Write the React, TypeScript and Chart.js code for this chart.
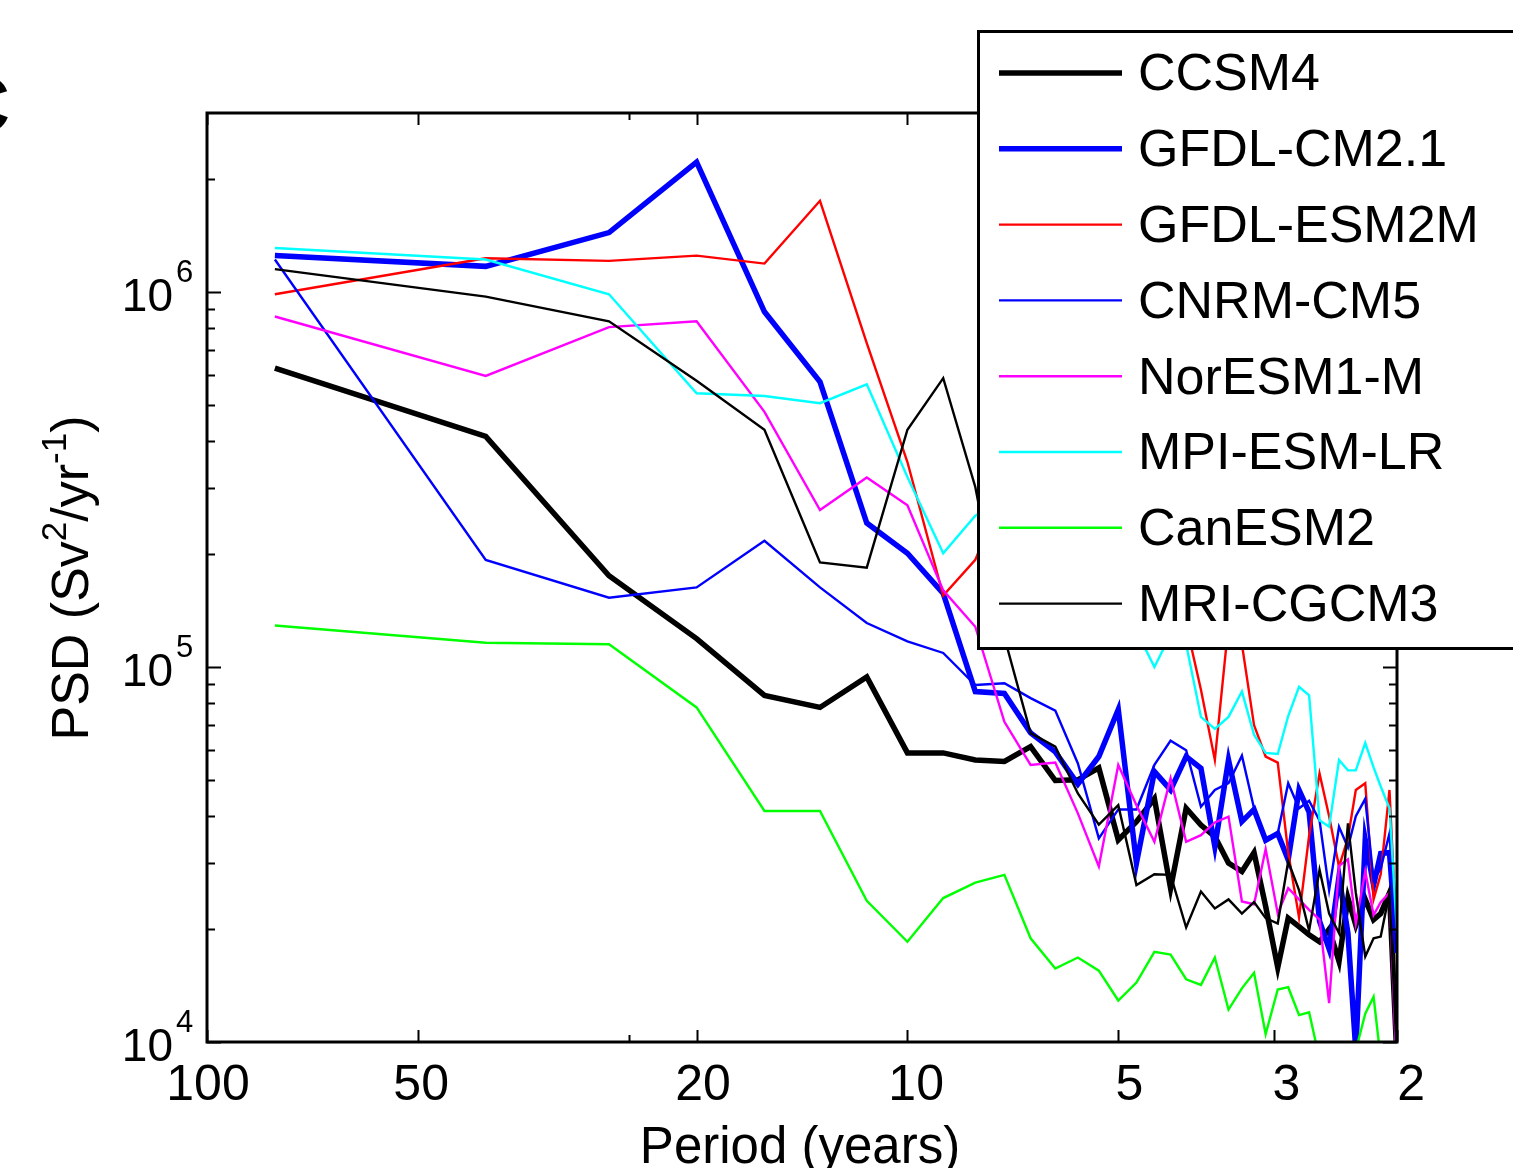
import React, { useEffect, useRef } from 'react';
import { Chart, registerables } from 'chart.js';

Chart.register(...registerables);

// Period (years) of each spectral estimate
const periods = [
  80, 40, 26.67, 20, 16, 13.33, 11.43, 10, 8.89, 8,
  7.27, 6.67, 6.15, 5.71, 5.33, 5, 4.71, 4.44, 4.21, 4,
  3.81, 3.64, 3.48, 3.33, 3.2, 3.08, 2.96, 2.86, 2.76, 2.67,
  2.58, 2.5, 2.42, 2.35, 2.29, 2.22, 2.16, 2.11, 2.05, 2.0,
];

const ccsm4 = [
  6.26e5, 4.12e5, 1.75e5, 1.19e5, 8.4e4, 7.8e4, 9.4e4, 5.9e4, 5.9e4, 5.65e4,
  5.6e4, 6.13e4, 4.98e4, 5.0e4, 5.38e4, 3.46e4, 3.87e4, 4.46e4, 2.57e4, 4.2e4,
  3.79e4, 3.53e4, 3.0e4, 2.85e4, 3.2e4, 2.3e4, 1.58e4, 2.14e4, 2.03e4, 1.93e4,
  1.85e4, 2.0e4, 1.64e4, 2.42e4, 2.05e4, 2.4e4, 2.12e4, 2.2e4, 2.5e4, 9.0e3,
];
const gfdlCm21 = [
  1.25e6, 1.17e6, 1.44e6, 2.22e6, 8.85e5, 5.76e5, 2.42e5, 2.01e5, 1.57e5, 8.6e4,
  8.5e4, 6.67e4, 5.94e4, 4.87e4, 5.77e4, 7.7e4, 3.0e4, 5.26e4, 4.7e4, 5.77e4,
  5.37e4, 3.32e4, 5.65e4, 3.87e4, 4.17e4, 3.45e4, 3.6e4, 3.06e4, 4.7e4, 4.1e4,
  2.1e4, 1.77e4, 2.76e4, 1.95e4, 9.5e3, 3.46e4, 2.62e4, 3.18e4, 3.2e4, 1.73e4,
];
const gfdlEsm2m = [
  9.86e5, 1.23e6, 1.21e6, 1.25e6, 1.19e6, 1.75e6, 7.3e5, 3.52e5, 1.55e5, 1.93e5,
  3.0e5, 2.2e5, 2.6e5, 1.8e5, 2.4e5, 1.6e5, 2.0e5, 1.5e5, 2.1e5, 1.3e5,
  8.7e4, 5.65e4, 1.3e5, 1.15e5, 7.0e4, 5.77e4, 5.56e4, 3.2e4, 2.15e4, 3.55e4,
  5.2e4, 4.0e4, 2.93e4, 3.5e4, 4.7e4, 4.9e4, 2.4e4, 2.8e4, 4.7e4, 1.8e4,
];
const cnrmCm5 = [
  1.22e6, 1.93e5, 1.53e5, 1.63e5, 2.17e5, 1.63e5, 1.31e5, 1.17e5, 1.09e5, 8.95e4,
  9.05e4, 8.26e4, 7.65e4, 5.53e4, 3.49e4, 4.17e4, 4.17e4, 5.48e4, 6.36e4, 6.0e4,
  4.24e4, 4.7e4, 4.9e4, 5.8e4, 4.2e4, 3.5e4, 3.6e4, 4.9e4, 4.2e4, 4.4e4,
  3.9e4, 2.54e4, 3.75e4, 3.3e4, 4.0e4, 4.45e4, 2.7e4, 2.9e4, 3.6e4, 1.73e4,
];
const norEsm1M = [
  8.6e5, 5.97e5, 8.06e5, 8.35e5, 4.79e5, 2.62e5, 3.2e5, 2.7e5, 1.6e5, 1.28e5,
  7.14e4, 5.48e4, 5.56e4, 4.07e4, 2.94e4, 5.48e4, 4.28e4, 3.42e4, 5.05e4, 3.42e4,
  3.56e4, 3.85e4, 3.99e4, 2.37e4, 2.33e4, 3.27e4, 2.2e4, 2.57e4, 2.4e4, 2.25e4,
  2.12e4, 1.27e4, 2.95e4, 3.07e4, 2.07e4, 2.85e4, 2.18e4, 2.36e4, 2.5e4, 8.0e3,
];
const mpiEsmLr = [
  1.31e6, 1.22e6, 9.86e5, 5.37e5, 5.28e5, 5.05e5, 5.67e5, 3.21e5, 2.01e5, 2.53e5,
  2.8e5, 2.0e5, 2.4e5, 1.7e5, 1.9e5, 1.5e5, 1.25e5, 1.0e5, 1.22e5, 1.15e5,
  7.36e4, 6.84e4, 7.36e4, 8.6e4, 6.6e4, 5.9e4, 5.86e4, 7.4e4, 8.85e4, 8.4e4,
  3.9e4, 3.75e4, 5.65e4, 5.3e4, 5.3e4, 6.27e4, 5.4e4, 4.8e4, 4.2e4, 1.95e4,
];
const canEsm2 = [
  1.29e5, 1.16e5, 1.15e5, 7.8e4, 4.13e4, 4.13e4, 2.38e4, 1.85e4, 2.42e4, 2.66e4,
  2.79e4, 1.89e4, 1.57e4, 1.68e4, 1.55e4, 1.29e4, 1.44e4, 1.74e4, 1.71e4, 1.47e4,
  1.42e4, 1.68e4, 1.22e4, 1.39e4, 1.53e4, 1.05e4, 1.38e4, 1.4e4, 1.18e4, 1.2e4,
  9.0e3, 8.0e3, 8.0e3, 8.5e3, 9.5e3, 1.19e4, 1.32e4, 9.0e3, 8.0e3, 8.0e3,
];
const mriCgcm3 = [
  1.15e6, 9.72e5, 8.35e5, 5.8e5, 4.29e5, 1.9e5, 1.84e5, 4.29e5, 5.89e5, 3.02e5,
  1.2e5, 6.66e4, 6.13e4, 4.6e4, 3.8e4, 4.28e4, 2.62e4, 2.8e4, 2.79e4, 2.02e4,
  2.52e4, 2.27e4, 2.4e4, 2.2e4, 2.36e4, 2.14e4, 2.07e4, 3.03e4, 2.54e4, 1.98e4,
  2.88e4, 2.2e4, 1.95e4, 3.83e4, 2.5e4, 1.69e4, 1.89e4, 1.91e4, 2.5e4, 9.0e3,
];

const seriesNames = ['CCSM4', 'GFDL-CM2.1', 'GFDL-ESM2M', 'CNRM-CM5', 'NorESM1-M', 'MPI-ESM-LR', 'CanESM2', 'MRI-CGCM3'];
const seriesValues = [ccsm4, gfdlCm21, gfdlEsm2m, cnrmCm5, norEsm1M, mpiEsmLr, canEsm2, mriCgcm3];

const xTickValues = [100, 50, 20, 10, 5, 3, 2];
const xTickLabels = ['100', '50', '20', '10', '5', '3', '2'];
const xMinorTickValues = [25];
const yMajorTickValues = [1e4, 1e5, 1e6];
const yTickExponents = ['4', '5', '6'];
const yMinorTickValues = [
  2e4, 3e4, 4e4, 5e4, 6e4, 7e4, 8e4, 9e4,
  2e5, 3e5, 4e5, 5e5, 6e5, 7e5, 8e5, 9e5,
  2e6,
];

const lineStyles = [
  { color: '#000000', width: 5.5 },
  { color: '#0000ff', width: 5.5 },
  { color: '#ff0000', width: 2.4 },
  { color: '#0000ff', width: 2.4 },
  { color: '#ff00ff', width: 2.4 },
  { color: '#00ffff', width: 2.4 },
  { color: '#00ff00', width: 2.4 },
  { color: '#000000', width: 2.4 },
];

const FONT = "'Liberation Sans', Arial, Helvetica, sans-serif";

const framePlugin = {
  id: 'matlabFrame',
  afterDraw(chart: any) {
    const { ctx, chartArea: a, scales } = chart;
    const xs = scales.x;
    const ys = scales.y;
    ctx.save();
    ctx.strokeStyle = '#000';
    ctx.fillStyle = '#000';
    ctx.lineCap = 'butt';

    // ticks (inward)
    ctx.lineWidth = 2;
    const vTick = (v: number, len: number) => {
      const px = Math.round(xs.getPixelForValue(v)) + 0.5;
      ctx.beginPath();
      ctx.moveTo(px, a.bottom);
      ctx.lineTo(px, a.bottom - len);
      ctx.moveTo(px, a.top);
      ctx.lineTo(px, a.top + len);
      ctx.stroke();
    };
    xTickValues.forEach((v) => vTick(v, 12));
    xMinorTickValues.forEach((v) => vTick(v, 7));
    const hTick = (v: number, len: number) => {
      const py = Math.round(ys.getPixelForValue(v)) + 0.5;
      ctx.beginPath();
      ctx.moveTo(a.left, py);
      ctx.lineTo(a.left + len, py);
      ctx.moveTo(a.right, py);
      ctx.lineTo(a.right - len, py);
      ctx.stroke();
    };
    yMajorTickValues.forEach((v) => hTick(v, 14));
    yMinorTickValues.forEach((v) => hTick(v, 8));

    // axes box
    ctx.lineWidth = 3;
    ctx.strokeRect(a.left, a.top, a.right - a.left, a.bottom - a.top);

    // x tick labels
    ctx.font = `50px ${FONT}`;
    ctx.textAlign = 'center';
    ctx.textBaseline = 'alphabetic';
    xTickValues.forEach((v, i) => {
      const px = xs.getPixelForValue(v);
      const cx = px + 1 + (px - a.left) * 0.011;
      ctx.fillText(xTickLabels[i], cx, a.bottom + 58);
    });

    // y tick labels 10^n
    yMajorTickValues.forEach((v, i) => {
      const py = ys.getPixelForValue(v);
      ctx.font = `46px ${FONT}`;
      ctx.textAlign = 'right';
      ctx.fillText('10', a.left - 34, py + 19);
      ctx.font = `31px ${FONT}`;
      ctx.textAlign = 'left';
      ctx.fillText(yTickExponents[i], a.left - 31, py - 10);
    });

    // x title
    ctx.font = `51px ${FONT}`;
    ctx.textAlign = 'center';
    ctx.fillText('Period (years)', 800, 1163);

    // y title with superscripts
    ctx.save();
    ctx.translate(88, 578);
    ctx.rotate(-Math.PI / 2);
    const parts = [
      { t: 'PSD (Sv', sup: false },
      { t: '2', sup: true },
      { t: '/yr', sup: false },
      { t: '-1', sup: true },
      { t: ')', sup: false },
    ];
    const mainFont = `52px ${FONT}`;
    const supFont = `35px ${FONT}`;
    let total = 0;
    parts.forEach((p) => {
      ctx.font = p.sup ? supFont : mainFont;
      total += ctx.measureText(p.t).width;
    });
    let x = -total / 2;
    ctx.textAlign = 'left';
    parts.forEach((p) => {
      ctx.font = p.sup ? supFont : mainFont;
      ctx.fillText(p.t, x, p.sup ? -22 : 0);
      x += ctx.measureText(p.t).width;
    });
    ctx.restore();

    // panel letter (cropped)
    ctx.font = `bold 80px ${FONT}`;
    ctx.textAlign = 'right';
    ctx.fillText('C', 10, 132);

    // legend box
    ctx.fillStyle = '#ffffff';
    ctx.fillRect(977, 31, 600, 618);
    ctx.lineWidth = 3;
    ctx.strokeStyle = '#000';
    ctx.strokeRect(978.5, 31.5, 600, 617);
    ctx.font = `52px ${FONT}`;
    ctx.textAlign = 'left';
    ctx.textBaseline = 'middle';
    seriesNames.forEach((name, i) => {
      const y = 73 + i * 75.8;
      ctx.strokeStyle = lineStyles[i].color;
      ctx.lineWidth = lineStyles[i].width;
      ctx.beginPath();
      ctx.moveTo(999, y);
      ctx.lineTo(1122, y);
      ctx.stroke();
      ctx.fillStyle = '#000';
      ctx.fillText(name, 1138, y + 3);
    });

    ctx.restore();
  },
};

export default function App() {
  const canvasRef = useRef<HTMLCanvasElement | null>(null);

  useEffect(() => {
    const canvas = canvasRef.current;
    if (!canvas) return;
    const datasets = seriesNames.map((name, i) => ({
      label: name,
      data: periods.map((p, j) => ({ x: p, y: seriesValues[i][j] })),
      borderColor: lineStyles[i].color,
      backgroundColor: lineStyles[i].color,
      borderWidth: lineStyles[i].width,
      pointRadius: 0,
      tension: 0,
      fill: false,
      order: -i,
    }));
    const chart = new Chart(canvas, {
      type: 'line',
      data: { datasets },
      options: {
        responsive: false,
        animation: false,
        events: [],
        layout: { padding: { left: 207, right: 116, top: 113, bottom: 126 } },
        scales: {
          x: { type: 'logarithmic', reverse: true, min: 2, max: 100, display: false },
          y: { type: 'logarithmic', min: 1e4, max: 3e6, display: false },
        },
        plugins: { legend: { display: false }, tooltip: { enabled: false }, title: { display: false } },
        elements: { point: { radius: 0 }, line: { tension: 0 } },
      },
      plugins: [framePlugin],
    } as any);
    return () => chart.destroy();
  }, []);

  return (
    <div style={{ position: 'fixed', left: 0, top: 0, width: 1513, height: 1168, background: '#fff' }}>
      <canvas ref={canvasRef} width={1513} height={1168} style={{ display: 'block' }} />
    </div>
  );
}
